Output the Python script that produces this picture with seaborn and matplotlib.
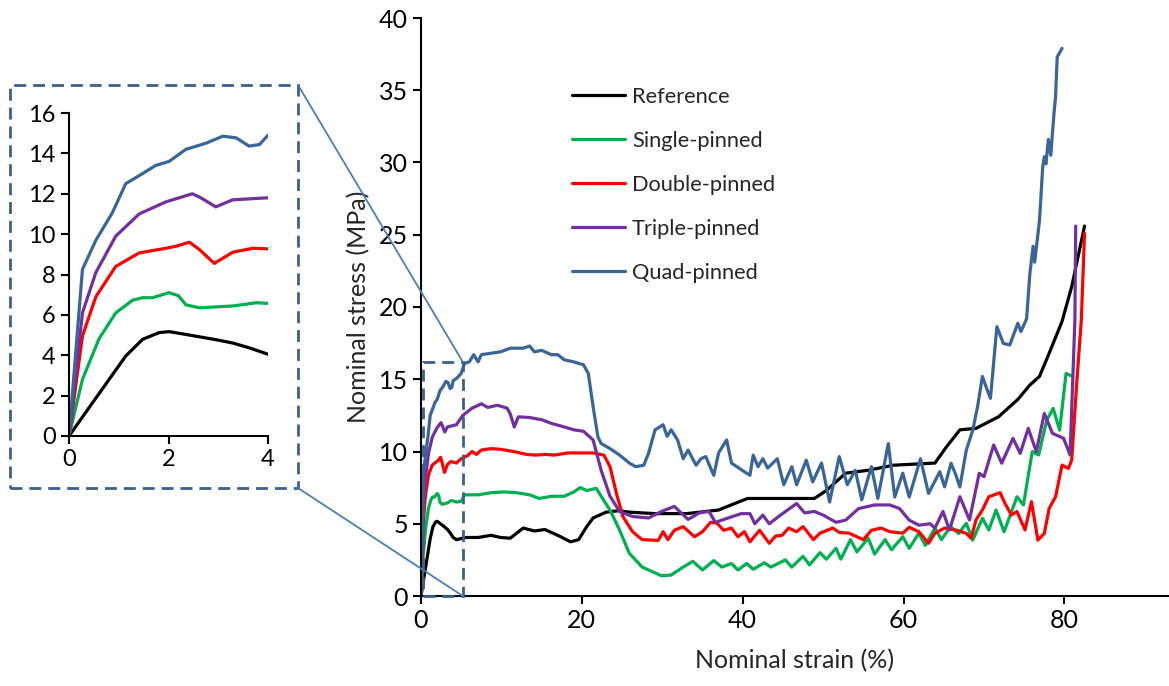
import matplotlib
matplotlib.use('Agg')
import matplotlib.pyplot as plt
import pandas as pd
import seaborn as sns
from matplotlib.patches import Rectangle, ConnectionPatch

series_names = ['Reference', 'Single-pinned', 'Double-pinned', 'Triple-pinned', 'Quad-pinned']
series_colors = ['#000000', '#00B050', '#FF0000', '#7030A0', '#3A6598']

ref_x = [0, 0.5, 1.14, 1.48, 1.81, 2.01, 2.35, 2.7, 3.0, 3.3, 3.62, 4.0, 4.4, 5.6, 7.1, 8.7, 9.9,
         11.1, 12.7, 14.1, 15.4, 17.0, 18.6, 19.6, 20.6, 21.4, 23.0, 24.5, 26.0, 29.1, 33.0, 37.0,
         39.0, 40.6, 44.9, 48.9, 50.4, 52.8, 55.6, 58.7, 63.9, 65.3, 67.0, 69.0, 71.8, 74.2, 75.7,
         76.9, 78.1, 79.7, 80.9, 82.5]
ref_y = [0, 1.74, 3.96, 4.79, 5.12, 5.17, 5.03, 4.88, 4.75, 4.6, 4.37, 4.05, 3.9, 4.05, 4.05, 4.2, 4.05,
         4.0, 4.7, 4.5, 4.6, 4.2, 3.75, 3.9, 4.8, 5.4, 5.8, 5.9, 5.8, 5.7, 5.7, 5.95,
         6.4, 6.75, 6.75, 6.75, 7.3, 8.5, 8.7, 9.05, 9.2, 10.3, 11.5, 11.6, 12.4, 13.6, 14.6,
         15.2, 16.8, 19.0, 21.4, 25.6]

single_x = [0, 0.27, 0.6, 0.94, 1.28, 1.48, 1.68, 2.01, 2.2, 2.35, 2.62, 3.29, 3.76, 4.0, 4.4, 5.0,
            5.4, 7.1, 8.7, 10.3, 11.9, 13.5, 14.7, 16.2, 17.8, 19.0, 19.8, 20.6, 21.8, 22.4, 23.5,
            24.7, 25.9, 27.5, 29.9, 31.1, 32.6, 33.8, 35.0, 36.4, 37.4, 38.6, 39.4, 40.5, 41.3,
            42.7, 43.5, 45.3, 46.1, 47.5, 48.3, 49.6, 50.4, 51.6, 52.2, 53.4, 54.2, 55.6, 56.4,
            57.7, 58.5, 59.9, 60.7, 61.9, 62.7, 63.9, 64.7, 65.85, 66.85, 67.8, 68.6, 69.8, 70.6,
            71.5, 72.5, 74.1, 74.9, 76.0, 76.8, 77.8, 78.6, 79.4, 80.2, 81.0]
single_y = [0, 2.8, 4.8, 6.1, 6.73, 6.85, 6.85, 7.1, 6.95, 6.5, 6.35, 6.44, 6.6, 6.57, 6.5, 6.55,
            7.0, 7.0, 7.15, 7.2, 7.15, 7.0, 6.75, 6.9, 6.9, 7.2, 7.5, 7.3, 7.45, 6.9, 5.95,
            4.55, 2.95, 2.0, 1.4, 1.45, 2.0, 2.4, 1.8, 2.45, 2.0, 2.25, 1.8, 2.25, 1.85,
            2.3, 2.0, 2.5, 2.0, 2.75, 2.15, 3.0, 2.55, 3.3, 2.55, 3.9, 3.05, 4.0, 2.9,
            3.9, 3.2, 4.1, 3.3, 4.35, 3.5, 4.7, 3.9, 4.8, 4.33, 5.03, 3.87, 5.38, 4.57,
            5.95, 4.45, 6.87, 6.3, 9.99, 9.76, 12.17, 12.98, 11.48, 15.4, 15.2]

double_x = [0, 0.27, 0.54, 0.94, 1.41, 1.95, 2.15, 2.42, 2.62, 2.92, 3.29, 3.69, 4.0, 4.4, 5.0, 5.75,
            6.35, 6.9, 7.5, 8.7, 9.9, 11.5, 13.1, 14.3, 15.4, 16.6, 18.2, 19.8, 21.4, 22.75, 23.5,
            24.3, 25.1, 26.3, 27.5, 29.5, 30.1, 30.7, 31.5, 32.6, 34.0, 35.0, 36.0, 36.8, 37.6,
            38.6, 39.4, 40.2, 40.9, 42.1, 43.3, 44.1, 44.9, 45.7, 46.7, 47.5, 48.8, 49.6, 51.2,
            52.0, 53.2, 55.0, 56.0, 57.2, 58.3, 59.9, 60.7, 61.9, 63.1, 63.9, 65.1, 66.6, 67.8,
            68.4, 69.0, 69.8, 70.6, 71.2, 72.0, 72.6, 73.4, 74.1, 75.1, 75.9, 76.7, 77.5, 78.1,
            78.9, 79.7, 80.5, 80.9, 81.5, 82.1, 82.5]
double_y = [0, 4.95, 6.9, 8.4, 9.07, 9.3, 9.4, 9.6, 9.24, 8.55, 9.1, 9.3, 9.27, 9.2, 9.5, 9.7,
            10.0, 9.8, 10.1, 10.2, 10.15, 10.0, 9.8, 9.75, 9.8, 9.75, 9.9, 9.9, 9.9, 9.75, 8.95,
            7.1, 5.5, 4.45, 3.9, 3.85, 4.45, 3.9, 4.55, 4.8, 4.1, 4.45, 5.1, 5.05, 4.55,
            4.7, 4.1, 4.45, 3.75, 4.55, 3.65, 4.15, 4.2, 4.7, 4.45, 4.8, 3.9, 4.35, 4.7,
            4.4, 4.35, 3.9, 4.55, 4.7, 4.45, 4.35, 4.75, 4.45, 3.65, 4.35, 4.7, 4.55, 4.33,
            3.99, 5.26, 5.95, 6.87, 6.99, 7.15, 6.42, 5.61, 5.84, 4.57, 6.53, 3.87, 4.33, 6.06,
            6.87, 9.06, 8.83, 9.4, 14.5, 19.1, 25.1]

triple_x = [0, 0.27, 0.54, 0.94, 1.41, 1.95, 2.48, 2.65, 2.95, 3.29, 4.0, 4.4, 5.2, 6.35, 7.5, 8.3,
            9.5, 10.7, 11.1, 11.6, 12.1, 13.5, 15.0, 16.2, 17.8, 19.0, 20.2, 21.4, 22.4, 23.5,
            24.7, 26.3, 28.3, 29.9, 31.5, 33.2, 34.6, 35.8, 36.6, 38.2, 39.8, 40.9, 41.5, 42.5,
            43.3, 44.7, 46.7, 47.7, 48.9, 50.0, 51.6, 52.8, 54.4, 56.4, 58.3, 59.5, 60.7, 61.9,
            63.3, 63.9, 64.9, 65.7, 67.0, 68.2, 69.4, 70.0, 71.2, 72.2, 73.6, 74.5, 75.5, 76.5,
            77.5, 78.5, 79.9, 80.7, 81.3, 81.4]
triple_y = [0, 6.1, 8.1, 9.9, 11.0, 11.6, 12.0, 11.8, 11.35, 11.7, 11.8, 11.85, 12.5, 13.0, 13.3, 13.05,
            13.2, 13.0, 12.6, 11.7, 12.4, 12.35, 12.2, 11.95, 11.7, 11.5, 11.4, 10.8, 8.7, 6.9,
            5.85, 5.5, 5.4, 5.85, 6.2, 5.3, 5.75, 5.85, 5.1, 5.4, 5.7, 5.7, 5.0, 5.6,
            5.0, 5.6, 6.4, 5.75, 5.85, 5.6, 5.1, 5.25, 6.05, 6.3, 6.3, 6.05, 5.25, 4.9,
            5.0, 4.7, 5.85, 4.57, 6.87, 5.26, 8.49, 8.26, 10.45, 9.19, 10.91, 9.87, 11.6, 9.99,
            12.64, 11.26, 10.91, 9.76, 19.1, 25.6]

quad_x = [0, 0.27, 0.54, 0.87, 1.14, 1.48, 1.74, 2.01, 2.35, 2.75, 3.09, 3.36, 3.62, 3.83, 4.0, 4.4,
          5.0, 5.4, 6.0, 6.55, 7.1, 7.5, 8.7, 9.9, 11.1, 12.7, 13.5, 14.1, 15.0, 16.2, 17.0,
          17.8, 19.0, 20.2, 20.8, 21.4, 22.0, 22.4, 23.5, 24.7, 25.9, 26.7, 27.7, 28.3, 29.1,
          30.1, 30.6, 31.1, 31.9, 32.6, 33.2, 34.2, 34.8, 35.4, 36.4, 37.0, 38.0, 38.6, 40.2,
          40.9, 41.3, 41.9, 42.5, 43.1, 44.3, 45.1, 46.1, 46.7, 47.9, 48.7, 49.8, 50.8, 52.0,
          53.0, 54.0, 54.8, 56.0, 56.8, 58.1, 58.9, 59.9, 60.7, 62.1, 63.1, 64.5, 65.1, 65.9,
          66.5, 67.0, 67.8, 68.6, 69.2, 69.8, 70.4, 70.8, 71.6, 72.4, 73.2, 74.2, 74.6, 75.3,
          75.7, 76.1, 76.3, 76.9, 77.3, 77.5, 77.7, 78.0, 78.3, 78.7, 78.9, 79.1, 79.7]
quad_y = [0, 8.25, 9.7, 11.05, 12.5, 13.0, 13.4, 13.6, 14.2, 14.5, 14.85, 14.77, 14.36, 14.44, 14.9, 15.05,
          15.4, 16.1, 16.2, 16.7, 16.2, 16.7, 16.8, 16.9, 17.15, 17.15, 17.3, 16.9, 17.0, 16.7, 16.7,
          16.35, 16.2, 16.0, 15.4, 13.1, 11.0, 10.55, 10.2, 9.75, 9.2, 8.95, 9.05, 9.9, 11.5,
          11.85, 11.05, 11.5, 10.8, 9.5, 10.1, 9.05, 9.5, 9.65, 8.35, 9.9, 10.8, 9.2, 8.6,
          8.35, 9.75, 8.95, 9.5, 8.85, 9.5, 7.7, 8.95, 7.7, 9.4, 7.9, 9.2, 6.5, 9.65,
          7.7, 8.7, 6.65, 8.95, 6.75, 10.55, 6.85, 8.5, 6.85, 9.5, 7.1, 8.6, 7.55, 9.19,
          8.37, 7.55, 10.1, 11.48, 13.1, 15.2, 14.25, 13.68, 18.64, 17.48, 17.37, 18.87, 18.3, 19.2,
          22.3, 24.2, 23.1, 26.0, 29.7, 30.4, 29.9, 31.6, 30.5, 33.4, 34.6, 37.3, 37.9]

xs = [ref_x, single_x, double_x, triple_x, quad_x]
ys = [ref_y, single_y, double_y, triple_y, quad_y]
df = pd.concat([pd.DataFrame({'strain': x, 'stress': y, 'series': n})
                for x, y, n in zip(xs, ys, series_names)], ignore_index=True)

sns.set_style('ticks')
plt.rcParams['font.family'] = ['Lato', 'DejaVu Sans']

fig = plt.figure(figsize=(11.69, 6.86), dpi=100)
W, H = 1169, 686

# main chart
ax = fig.add_axes([421 / W, 1 - 596 / H, 1 - 421 / W, (596 - 18) / H])
sns.lineplot(data=df, x='strain', y='stress', hue='series', hue_order=series_names,
             palette=series_colors, sort=False, estimator=None, lw=2.3, ax=ax)
ax.set_xlim(0, 93)
ax.set_ylim(0, 40)
ax.set_xticks([0, 20, 40, 60, 80])
ax.set_yticks(range(0, 41, 5))
ax.set_xlabel('Nominal strain (%)', fontsize=18, labelpad=12)
ax.set_ylabel('Nominal stress (MPa)', fontsize=18, labelpad=6)
ax.tick_params(labelsize=18, direction='out', length=6, width=1.5, colors='black')
for side in ['top', 'right']:
    ax.spines[side].set_visible(False)
for side in ['left', 'bottom']:
    ax.spines[side].set_linewidth(1.5)
    ax.spines[side].set_color('black')

ax.legend(loc='upper left', bbox_to_anchor=(572 / W, 1 - 87 / H), bbox_transform=fig.transFigure,
          frameon=False, fontsize=15.7, handlelength=2.45, handletextpad=0.3,
          labelspacing=1.1, borderpad=0, borderaxespad=0)

box_color = '#3D5F8C'
ax.add_patch(Rectangle((0.2, 0), 5.0, 16.2, fill=False, ec=box_color, lw=2,
                       ls=(0, (4.3, 2.5)), clip_on=False, zorder=5))

# inset
axi = fig.add_axes([69 / W, 1 - 436 / H, (268 - 69) / W, (436 - 113) / H])
sns.lineplot(data=df, x='strain', y='stress', hue='series', hue_order=series_names,
             palette=series_colors, sort=False, estimator=None, lw=2.3, ax=axi, legend=False)
axi.set_xlim(0, 4)
axi.set_ylim(0, 16)
axi.set_xticks([0, 2, 4])
axi.set_yticks(range(0, 17, 2))
axi.set_xlabel('')
axi.set_ylabel('')
axi.tick_params(labelsize=17, direction='out', length=6, width=1.5, colors='black')
for side in ['top', 'right']:
    axi.spines[side].set_visible(False)
for side in ['left', 'bottom']:
    axi.spines[side].set_linewidth(1.5)
    axi.spines[side].set_color('black')

bx0, by0, bx1, by1 = 10 / W, 1 - 488 / H, 298 / W, 1 - 85 / H
fig.add_artist(Rectangle((bx0, by0), bx1 - bx0, by1 - by0, transform=fig.transFigure,
                         fill=False, ec=box_color, lw=2, ls=(0, (4.3, 2.5))))

link_color = '#4A7EBB'
for yb, yd in [(by1, 16.2), (by0, 0)]:
    con = ConnectionPatch(xyA=(bx1, yb), coordsA=fig.transFigure,
                          xyB=(5.2, yd), coordsB=ax.transData, color=link_color, lw=1.3)
    fig.add_artist(con)

fig.savefig('out.png', dpi=100)
